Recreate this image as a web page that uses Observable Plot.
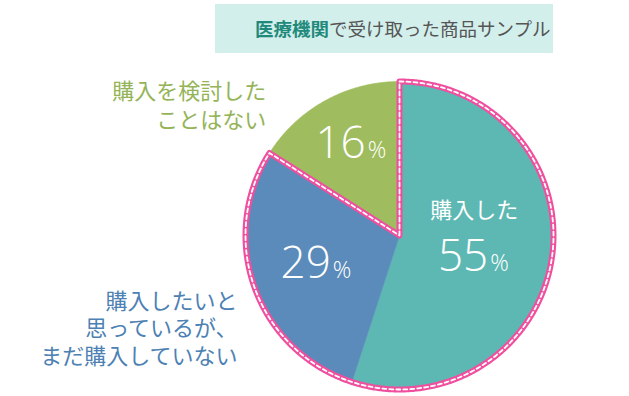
<!DOCTYPE html>
<html>
<head>
<meta charset="utf-8">
<script src="https://cdn.jsdelivr.net/npm/d3@7"></script>
<script src="https://cdn.jsdelivr.net/npm/@observablehq/plot@0.6"></script>
<style>
  body { margin: 0; background: #fff; }
  #head { height: 56px; position: relative; }
  #title { position: absolute; left: 215px; top: 4px; width: 338px; height: 49px; background: #d3efec;
    font-family: "Noto Sans CJK JP", sans-serif; font-size: 18.5px; line-height: 49px; color: #555;
    padding-left: 40px; box-sizing: border-box; white-space: nowrap; }
  #title b { color: #1f8a7b; font-weight: 700; }
</style>
</head>
<body>
<div id="head"><div id="title"><b>医療機関</b>で受け取った商品サンプル</div></div>
<div id="chart"></div>
<script>
// ---- data ----
const categories = ["購入した", "購入したいと\n思っているが、\nまだ購入していない", "購入を検討した\nことはない"];
const values = [55, 29, 16];
const percentLabels = ["55", "29", "16"];
const sliceColors = ["#5db8b3", "#5a8bba", "#9fbd5e"];
const textColors = ["#ffffff", "#4d81b3", "#94b457"];

// ---- geometry (unit circle, angles clockwise from top) ----
const total = d3.sum(values);
let cum = 0;
const slices = values.map((v, i) => {
  const start = cum / total * 360; cum += v; const end = cum / total * 360;
  const mid = (start + end) / 2 * Math.PI / 180;
  return {i, cat: categories[i], value: v, start, end, mx: Math.sin(mid), my: Math.cos(mid)};
});
function arcPoints(a0, a1, key) {
  const pts = [{x: 0, y: 0, key}];
  const n = Math.max(2, Math.ceil((a1 - a0) / 0.5));
  for (let k = 0; k <= n; k++) {
    const a = (a0 + (a1 - a0) * k / n) * Math.PI / 180;
    pts.push({x: Math.sin(a), y: Math.cos(a), key});
  }
  return pts;
}
const slicePts = slices.flatMap(s => arcPoints(s.start, s.end, s.cat));
const outlinePts = arcPoints(slices[0].start, slices[1].end, "outline");

const numFont = "'Open Sans', 'Noto Sans', sans-serif";
const jpFont = "'Noto Sans CJK JP', sans-serif";

function inLabel(s, k, dx, dy) {
  const d = [{x: s.mx * k, y: s.my * k, num: percentLabels[s.i]}];
  return [
    Plot.text(d, {x: "x", y: "y", text: "num", textAnchor: "end", lineAnchor: "bottom", dx: dx - 1, dy,
      fill: "#fff", fontSize: 44, fontFamily: numFont, fontWeight: 300}),
    Plot.text(d, {x: "x", y: "y", text: () => "%", textAnchor: "start", lineAnchor: "bottom", dx: dx + 1, dy,
      fill: "#fff", fontSize: 23, fontFamily: numFont, fontWeight: 300})
  ];
}

const chart = Plot.plot({
  width: 629, height: 340,
  marginTop: 0, marginRight: 0, marginBottom: 0, marginLeft: 0,
  x: {domain: [-1, 1], range: [245, 553], axis: null},
  y: {domain: [-1, 1], range: [333, 25], axis: null},
  color: {domain: categories, range: sliceColors},
  marks: [
    Plot.line(slicePts, {x: "x", y: "y", z: "key", fill: "key", stroke: "key", strokeWidth: 0.6, curve: "linear-closed"}),
    Plot.line(outlinePts, {x: "x", y: "y", stroke: "#f04f9f", strokeWidth: 6, strokeLinejoin: "round", curve: "linear-closed"}),
    Plot.line(outlinePts, {x: "x", y: "y", stroke: "#ffffff", strokeWidth: 1.8, strokeDasharray: "4,3", curve: "linear-closed"}),
    ...inLabel(slices[0], 0.55, 6, 22),
    ...inLabel(slices[1], 0.55, 12, 14),
    ...inLabel(slices[2], 0.55, 8, -3),
    Plot.text([slices[0]], {x: d => d.mx * 0.55, y: d => d.my * 0.55, text: "cat", dx: -9, dy: -38,
      fill: "#fff", fontSize: 22, fontFamily: jpFont}),
    Plot.text([slices[1]], {x: "mx", y: "my", text: "cat", textAnchor: "end", dx: -17, dy: 40, lineHeight: 1.24,
      fill: textColors[1], fontSize: 22, fontFamily: jpFont}),
    Plot.text([slices[2]], {x: "mx", y: "my", text: "cat", textAnchor: "end", dx: -59, dy: 4, lineHeight: 1.28,
      fill: textColors[2], fontSize: 22, fontFamily: jpFont})
  ]
});
document.getElementById("chart").append(chart);
</script>
</body>
</html>
